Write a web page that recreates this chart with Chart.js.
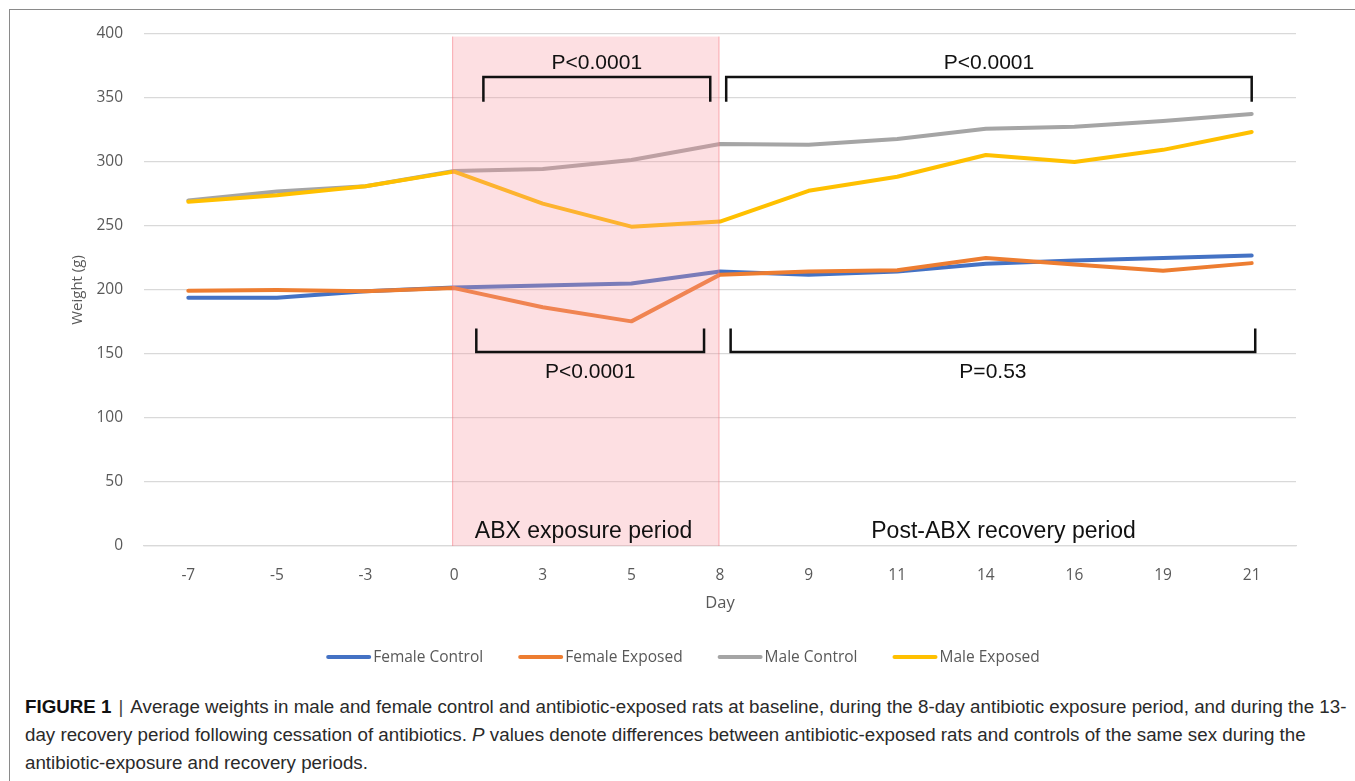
<!DOCTYPE html>
<html>
<head>
<meta charset="utf-8">
<script src="https://cdn.jsdelivr.net/npm/chart.js@4.4.0/dist/chart.umd.min.js"></script>
<style>
  body { margin: 0; background: #fff; width: 1355px; height: 781px; overflow: hidden; position: relative; }
  #frame { position: absolute; left: 9px; top: 9px; width: 1400px; height: 800px;
           border-left: 1.5px solid #8a8a8a; border-top: 1.5px solid #8a8a8a; }
  #grafico { position: absolute; left: 0; top: 0; }
  #legenda { position: absolute; left: 25px; top: 693px; font-family: 'Liberation Sans', Arial, sans-serif;
             font-size: 18.75px; line-height: 28px; color: #2a2a2a; white-space: nowrap; }
  #legenda b { color: #111; }
  #legenda .barra { color: #444; padding: 0 7px; }
</style>
</head>
<body>
<div id="frame"></div>
<canvas id="grafico" width="1355" height="690"></canvas>
<div id="legenda">
  <b>FIGURE 1</b><span class="barra">|</span>Average weights in male and female control and antibiotic-exposed rats at baseline, during the 8-day antibiotic exposure period, and during the 13-<br>
  day recovery period following cessation of antibiotics. <i>P</i> values denote differences between antibiotic-exposed rats and controls of the same sex during the<br>
  antibiotic-exposure and recovery periods.
</div>
<script>
// dados
const dias = ['-7', '-5', '-3', '0', '3', '5', '8', '9', '11', '14', '16', '19', '21'];
const femeaControle = [194, 194, 199, 202, 203.5, 205, 214.5, 212, 214.5, 220.5, 223, 225, 227];
const femeaExposta = [199.5, 200, 199, 201.5, 186.5, 175.5, 212, 214.5, 215.5, 225, 220, 215, 221];
const machoControle = [270, 277, 281, 293, 294.5, 301.5, 314, 313.5, 318, 326, 327.5, 332, 337.5];
const machoExposto = [269, 274, 281, 292.5, 267.5, 249.5, 253.5, 277.5, 288.5, 305.5, 300, 309.5, 323.5];
const nomesSeries = ['Female Control', 'Female Exposed', 'Male Control', 'Male Exposed'];
const coresSeries = ['#4472C4', '#ED7D31', '#A5A5A5', '#FFC000'];
const ticksY = [0, 50, 100, 150, 200, 250, 300, 350, 400];

// periodo de exposicao (dia 0 ate dia 8)
const periodo = { inicio: '0', fim: '8', topo: 398 };
const textosPeriodo = ['ABX exposure period', 'Post-ABX recovery period'];

// colchetes dos valores de P (x em indice de categoria, y em gramas)
const colchetes = [
  { de: 3.33, ate: 5.89, linha: 366.5, ponta: 347, texto: 'P<0.0001', textoY: 377.5 },
  { de: 6.07, ate: 12.0, linha: 366.5, ponta: 347, texto: 'P<0.0001', textoY: 377.5 },
  { de: 3.25, ate: 5.82, linha: 151.5, ponta: 170, texto: 'P<0.0001', textoY: 136 },
  { de: 6.12, ate: 12.04, linha: 151.5, ponta: 170, texto: 'P=0.53', textoY: 136 },
];

const series = [femeaControle, femeaExposta, machoControle, machoExposto];

const anotacoes = {
  id: 'anotacoes',
  afterDatasetsDraw(chart) {
    const ctx = chart.ctx;
    const x = chart.scales.x;
    const y = chart.scales.y;

    // faixa rosa por cima das linhas
    const x0 = x.getPixelForValue(dias.indexOf(periodo.inicio)) - 1.5;
    const x1 = x.getPixelForValue(dias.indexOf(periodo.fim)) - 1;
    const yTopo = y.getPixelForValue(periodo.topo);
    const yBase = y.getPixelForValue(0);
    ctx.save();
    ctx.fillStyle = 'rgba(250, 150, 160, 0.3)';
    ctx.fillRect(x0, yTopo, x1 - x0, yBase - yTopo);
    ctx.strokeStyle = 'rgba(245, 110, 120, 0.55)';
    ctx.lineWidth = 1;
    ctx.beginPath();
    ctx.moveTo(x0, yTopo); ctx.lineTo(x0, yBase);
    ctx.moveTo(x1, yTopo); ctx.lineTo(x1, yBase);
    ctx.stroke();

    // colchetes
    ctx.strokeStyle = '#111';
    ctx.lineWidth = 2.5;
    ctx.fillStyle = '#111';
    ctx.font = '21px "Liberation Sans", Arial, sans-serif';
    ctx.textAlign = 'center';
    ctx.textBaseline = 'middle';
    colchetes.forEach((c) => {
      const a = x.getPixelForValue(c.de);
      const b = x.getPixelForValue(c.ate);
      const l = y.getPixelForValue(c.linha);
      const p = y.getPixelForValue(c.ponta);
      ctx.beginPath();
      ctx.moveTo(a, p); ctx.lineTo(a, l); ctx.lineTo(b, l); ctx.lineTo(b, p);
      ctx.stroke();
      ctx.fillText(c.texto, (a + b) / 2, y.getPixelForValue(c.textoY));
    });

    // nomes dos periodos
    ctx.font = '23px "Liberation Sans", Arial, sans-serif';
    const yTexto = y.getPixelForValue(11.5);
    ctx.fillText(textosPeriodo[0], x.getPixelForValue(4.46), yTexto);
    ctx.fillText(textosPeriodo[1], x.getPixelForValue(9.2), yTexto);
    ctx.restore();
  },
  afterDraw(chart) {
    // legenda desenhada a partir dos datasets
    const ctx = chart.ctx;
    ctx.save();
    ctx.font = '15.5px "Open Sans", sans-serif';
    ctx.textBaseline = 'middle';
    ctx.textAlign = 'left';
    const larguraLinha = 45, folga = 2, espaco = 35;
    const itens = chart.data.datasets.map((d) => ({
      nome: d.label, cor: d.borderColor, w: larguraLinha + folga + ctx.measureText(d.label).width,
    }));
    const total = itens.reduce((s, i) => s + i.w, 0) + espaco * (itens.length - 1);
    let px = 683 - total / 2;
    const py = 657;
    itens.forEach((i) => {
      ctx.strokeStyle = i.cor;
      ctx.lineWidth = 4;
      ctx.lineCap = 'round';
      ctx.beginPath();
      ctx.moveTo(px + 2, py); ctx.lineTo(px + larguraLinha - 2, py);
      ctx.stroke();
      ctx.fillStyle = '#595959';
      ctx.fillText(i.nome, px + larguraLinha + folga, py + 0.5);
      px += i.w + espaco;
    });
    ctx.restore();
  },
};

new Chart(document.getElementById('grafico'), {
  type: 'line',
  data: {
    labels: dias,
    datasets: series.map((s, i) => ({
      label: nomesSeries[i],
      data: s,
      borderColor: coresSeries[i],
      backgroundColor: coresSeries[i],
      borderWidth: 4,
      pointRadius: 0,
      tension: 0,
      borderCapStyle: 'round',
      borderJoinStyle: 'round',
      order: series.length - i,
    })),
  },
  options: {
    responsive: false,
    devicePixelRatio: 1,
    animation: false,
    layout: { padding: { left: 60, top: 34, right: 59, bottom: 73 } },
    plugins: {
      legend: { display: false },
      tooltip: { enabled: false },
    },
    scales: {
      x: {
        offset: true,
        grid: { display: false },
        border: { display: true, color: '#d9d9d9', width: 1.3 },
        ticks: { color: '#595959', font: { family: 'Open Sans', size: 15.5 }, padding: 12, maxRotation: 0 },
        title: { display: true, text: 'Day', color: '#595959', font: { family: 'Open Sans', size: 16.5 }, padding: { top: 4, bottom: 4 } },
        afterFit(scale) { scale.height = 71; },
      },
      y: {
        min: 0,
        max: 400,
        afterBuildTicks(scale) { scale.ticks = ticksY.map((v) => ({ value: v })); },
        grid: { color: '#d9d9d9', lineWidth: 1.3, drawTicks: false },
        border: { display: false },
        ticks: { color: '#595959', font: { family: 'Open Sans', size: 15.5 }, padding: 21 },
        title: { display: true, text: 'Weight (g)', color: '#595959', font: { family: 'Open Sans', size: 15 }, padding: { top: 9, bottom: 4 } },
        afterFit(scale) { scale.width = 84; },
      },
    },
  },
  plugins: [anotacoes],
});
</script>
</body>
</html>
